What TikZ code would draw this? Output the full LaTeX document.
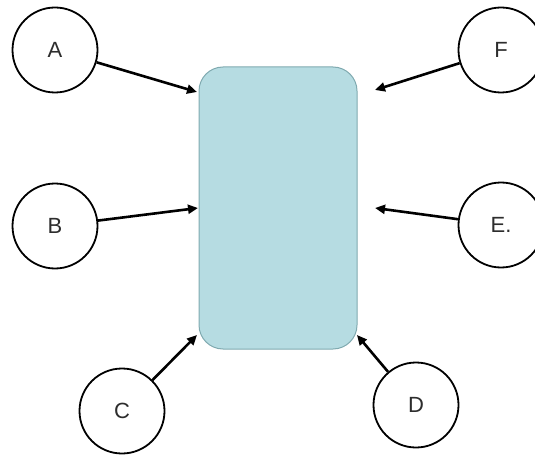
\documentclass[tikz,border=0pt]{standalone}
\usepackage{fontspec}
\setmainfont{Liberation Sans}
\usetikzlibrary{arrows.meta}
\definecolor{boxfill}{RGB}{182,220,226}
\definecolor{boxline}{RGB}{128,170,176}
\definecolor{txtgray}{RGB}{45,45,45}
\tikzset{
  ent/.style={circle, draw, line width=1.8pt, fill=white, minimum size=85pt, inner sep=0pt,
    text=txtgray, font=\fontsize{22}{22}\selectfont},
  hub/.style={draw=boxline, fill=boxfill, rounded corners=24pt, line width=1pt,
    minimum width=158pt, minimum height=282pt},
  feed/.style={-{Triangle[length=10pt,width=9pt]}, line width=2.6pt}
}

\begin{document}
\begin{tikzpicture}[x=1pt,y=-1pt]
  \useasboundingbox (0,0) rectangle (535,457);
  % central box
  \node[hub] (hub) at (278,208) {};
  % outer entities
  \node[ent] (a) at (55,50) {A};
  \node[ent] (b) at (55,226) {B};
  \node[ent] (c) at (122,411) {C};
  \node[ent] (d) at (416,405) {D};
  \node[ent] (e) at (501,225) {E.};
  \node[ent] (f) at (501,50) {F};
  % arrow tips, just off the box
  \coordinate (ta) at (197,92);
  \coordinate (tb) at (198,208);
  \coordinate (tc) at (197,335);
  \coordinate (td) at (357,335);
  \coordinate (te) at (375,208);
  \coordinate (tf) at (375,90);
  \draw[feed] (a)--(ta);
  \draw[feed] (b)--(tb);
  \draw[feed] (c)--(tc);
  \draw[feed] (d)--(td);
  \draw[feed] (e)--(te);
  \draw[feed] (f)--(tf);
\end{tikzpicture}
\end{document}
